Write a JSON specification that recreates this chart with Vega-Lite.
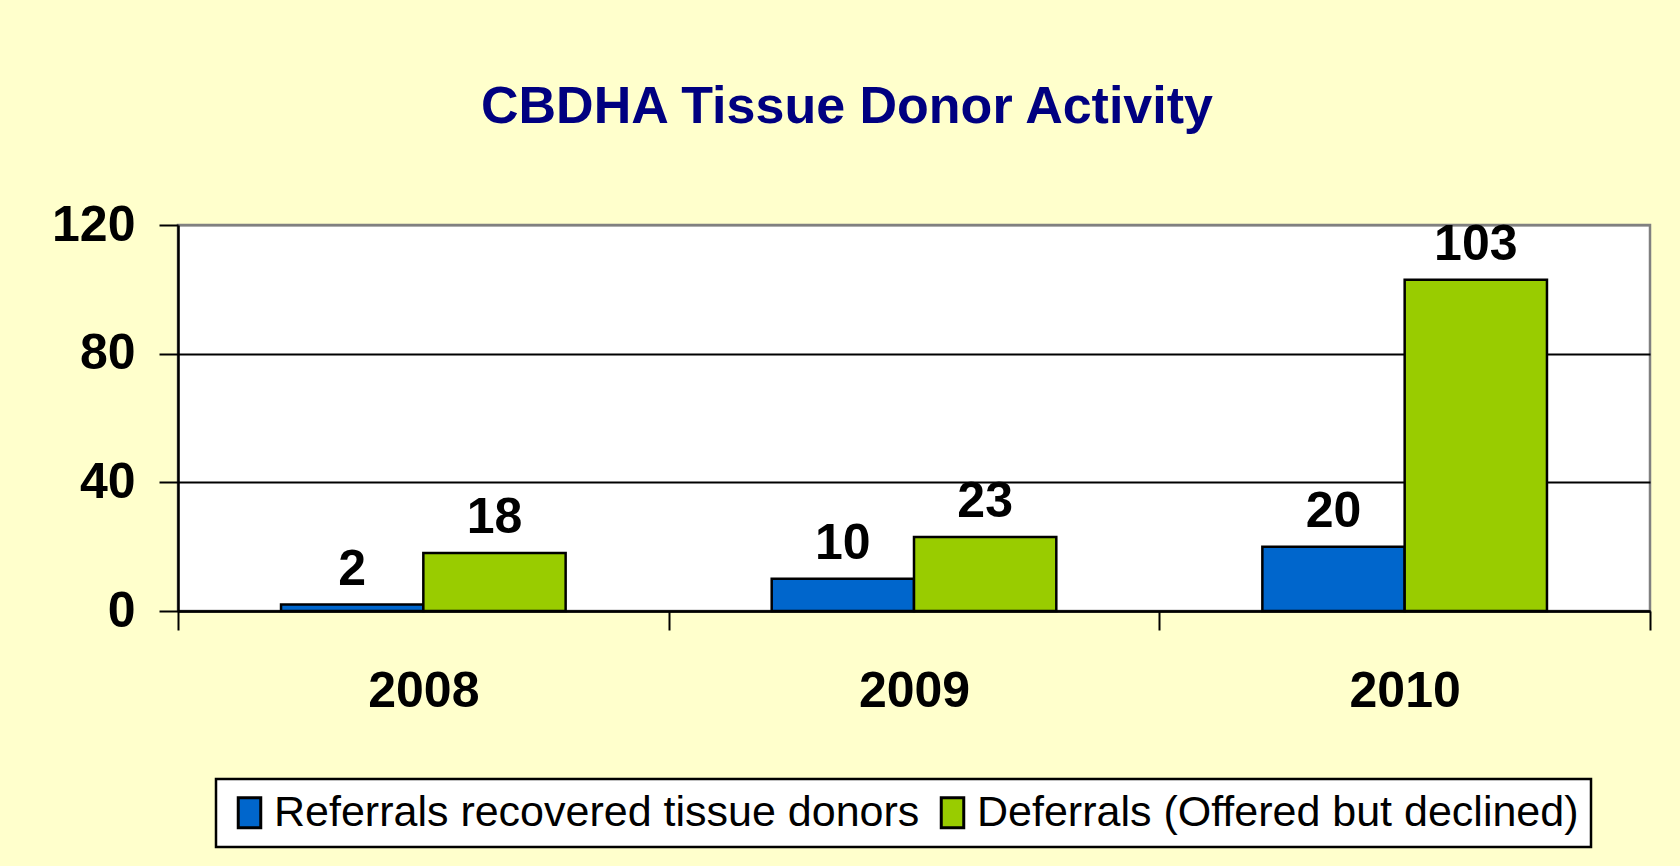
{
  "$schema": "https://vega.github.io/schema/vega-lite/v6.json",
  "width": 1472,
  "height": 386,
  "autosize": {"type": "none"},
  "padding": {"left": 178, "top": 225, "right": 30, "bottom": 255},
  "background": "#FFFFCC",
  "title": {
    "text": "CBDHA Tissue Donor Activity",
    "font": "Liberation Sans",
    "fontSize": 52,
    "fontWeight": "bold",
    "color": "#000080",
    "anchor": "middle",
    "dx": -67,
    "offset": 66
  },
  "data": {
    "values": [
      {"year": "2008", "series": "Referrals recovered tissue donors", "value": 2},
      {"year": "2008", "series": "Deferrals (Offered but declined)", "value": 18},
      {"year": "2009", "series": "Referrals recovered tissue donors", "value": 10},
      {"year": "2009", "series": "Deferrals (Offered but declined)", "value": 23},
      {"year": "2010", "series": "Referrals recovered tissue donors", "value": 20},
      {"year": "2010", "series": "Deferrals (Offered but declined)", "value": 103}
    ]
  },
  "encoding": {
    "x": {
      "field": "year",
      "type": "nominal",
      "scale": {"paddingInner": 0, "paddingOuter": 0},
      "axis": {
        "title": null,
        "labelAngle": 0,
        "tickBand": "extent",
        "grid": false,
        "domainColor": "black",
        "domainWidth": 2.5,
        "tickColor": "black",
        "tickWidth": 2,
        "tickSize": 19,
        "labelFont": "Liberation Sans",
        "labelFontSize": 50,
        "labelFontWeight": "bold",
        "labelColor": "black",
        "labelPadding": 36
      }
    },
    "xOffset": {
      "field": "series",
      "type": "nominal",
      "sort": ["Referrals recovered tissue donors", "Deferrals (Offered but declined)"],
      "scale": {"paddingInner": 0, "paddingOuter": 0.724}
    },
    "y": {
      "field": "value",
      "type": "quantitative",
      "scale": {"domain": [0, 120], "nice": false},
      "axis": {
        "title": null,
        "values": [0, 40, 80, 120],
        "grid": true,
        "gridColor": {"condition": {"test": "datum.value === 120", "value": "#808080"}, "value": "black"},
        "gridWidth": 2,
        "domainColor": "black",
        "domainWidth": 2.5,
        "tickColor": "black",
        "tickWidth": 2,
        "tickSize": 19,
        "labelFont": "Liberation Sans",
        "labelFontSize": 50,
        "labelFontWeight": "bold",
        "labelColor": "black",
        "labelPadding": 24
      }
    }
  },
  "layer": [
    {
      "mark": {"type": "bar", "stroke": "black", "strokeWidth": 2.5},
      "encoding": {
        "color": {
          "field": "series",
          "type": "nominal",
          "sort": ["Referrals recovered tissue donors", "Deferrals (Offered but declined)"],
          "scale": {
            "domain": ["Referrals recovered tissue donors", "Deferrals (Offered but declined)"],
            "range": ["#0066CC", "#99CC00"]
          },
          "legend": {
            "title": null,
            "orient": "none",
            "legendX": 38,
            "legendY": 554,
            "direction": "horizontal",
            "columns": 2,
            "columnPadding": 11,
            "padding": 12,
            "fillColor": "white",
            "strokeColor": "black",
            "labelFont": "Liberation Sans",
            "labelFontSize": 43,
            "labelColor": "black",
            "labelLimit": 2000,
            "labelOffset": 3,
            "symbolType": "M-0.75,-1H0.75V1H-0.75Z",
            "symbolSize": 900,
            "symbolStrokeColor": "black",
            "symbolStrokeWidth": 3,
            "symbolOpacity": 1
          }
        }
      }
    },
    {
      "mark": {
        "type": "text",
        "font": "Liberation Sans",
        "fontSize": 50,
        "fontWeight": "bold",
        "color": "black",
        "baseline": "alphabetic",
        "dy": -20
      },
      "encoding": {
        "text": {"field": "value", "type": "quantitative"}
      }
    }
  ],
  "config": {
    "view": {"stroke": "#808080", "strokeWidth": 2.5, "fill": "white"},
    "legend": {"strokeWidth": 2.5},
    "font": "Liberation Sans"
  }
}
